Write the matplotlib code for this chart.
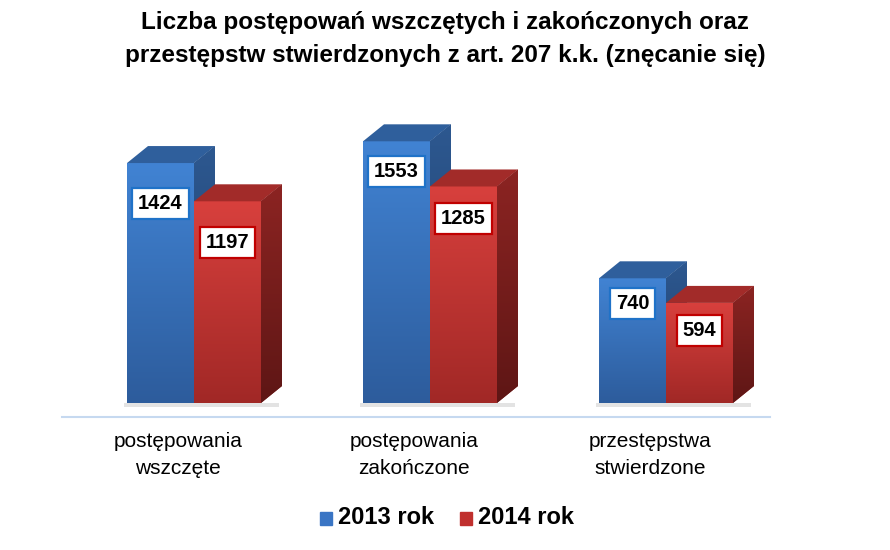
import numpy as np
import matplotlib.pyplot as plt
from matplotlib.patches import Polygon, Rectangle
from matplotlib.colors import LinearSegmentedColormap

plt.rcParams['font.family'] = ['Liberation Sans', 'DejaVu Sans']

title = "Liczba postępowań wszczętych i zakończonych oraz\nprzestępstw stwierdzonych z art. 207 k.k. (znęcanie się)"
categories = ["postępowania\nwszczęte", "postępowania\nzakończone", "przestępstwa\nstwierdzone"]
series_names = ["2013 rok", "2014 rok"]
values_2013 = [1424, 1553, 740]
values_2014 = [1197, 1285, 594]

# pixel geometry helpers (figure 890x550)
px_x = 236.0          # pixels per category step
px_y = 0.1685         # pixels per data unit
y0_pix = 403          # baseline pixel row
x0_pix = 194          # pixel column of first group center

# how far below the bar top each value box sits (pixels), per series
label_drop = [[40, 30, 25], [41, 32, 28]]

fig = plt.figure(figsize=(8.9, 5.5), dpi=100)
ax = fig.add_axes([0, 0, 1, 1])
ax.set_xlim(-x0_pix / px_x, (890 - x0_pix) / px_x)
ax.set_ylim(-(550 - y0_pix) / px_y, y0_pix / px_y)
ax.axis('off')

width = 67 / px_x
dx = 21 / px_x
dy = 17 / px_y

front_cols = [('#4183d3', '#2d5c9c'), ('#d8403d', '#a12826')]
top_cols = ['#2f5f9c', '#a22b29']
side_cols = [('#2d5890', '#1f3e68'), ('#8c2422', '#5e1615')]
edge_cols = ['#1f72c8', '#c00000']

x = np.arange(len(categories))
grad = np.linspace(0, 1, 256).reshape(-1, 1)

for s, vals in enumerate([values_2013, values_2014]):
    xs = x - width + s * width
    # soft shadow under bars
    for xi in xs:
        ax.add_patch(Rectangle((xi - 3 / px_x, -4 / px_y), width + dx, 4 / px_y,
                               color='#e3e3e3', zorder=2, lw=0))
    bars = ax.bar(xs, vals, width=width, align='edge', color=front_cols[s][0], zorder=3 + s)
    for i, (b, v) in enumerate(zip(bars, vals)):
        l = b.get_x()
        r = l + b.get_width()
        # front gradient
        cm = LinearSegmentedColormap.from_list('f', [front_cols[s][1], front_cols[s][0]])
        im = ax.imshow(grad, extent=[l, r, 0, v], origin='lower', cmap=cm,
                       aspect='auto', zorder=3 + s)
        im.set_clip_path(b)
        # top face
        ax.add_patch(Polygon([(l, v), (r, v), (r + dx, v + dy), (l + dx, v + dy)],
                             closed=True, color=top_cols[s], zorder=3 + s, lw=0))
        # side face
        side = Polygon([(r, 0), (r + dx, dy), (r + dx, v + dy), (r, v)],
                       closed=True, color=side_cols[s][0], zorder=3 + s, lw=0)
        ax.add_patch(side)
        cm2 = LinearSegmentedColormap.from_list('s', [side_cols[s][1], side_cols[s][0]])
        im2 = ax.imshow(grad, extent=[r, r + dx, 0, v + dy], origin='lower', cmap=cm2,
                        aspect='auto', zorder=3 + s)
        im2.set_clip_path(side)
        # value label
        ax.text((l + r) / 2, v - label_drop[s][i] / px_y, str(v), ha='center', va='center',
                fontsize=14.5, fontweight='bold', zorder=10,
                bbox=dict(boxstyle='square,pad=0.3', fc='white', ec=edge_cols[s], lw=1.6))

# baseline
ax.plot([(62 - x0_pix) / px_x, (770 - x0_pix) / px_x], [-14 / px_y, -14 / px_y],
        color='#c6d9f0', lw=1.5, zorder=1)

for i, c in enumerate(categories):
    ax.text(x[i] - 16 / px_x, -52 / px_y, c, ha='center', va='center', fontsize=15,
            linespacing=1.5)

fig.text(0.5, 1 - 39 / 550, title, ha='center', va='center', fontsize=17.5,
         fontweight='bold', linespacing=1.6)

# legend
leg_cols = ['#3a75c4', '#c0302e']
leg_x = [320, 460]
for i, name in enumerate(series_names):
    fig.patches.append(Rectangle((leg_x[i] / 890, (550 - 525) / 550), 12 / 890, 13 / 550,
                                 transform=fig.transFigure, color=leg_cols[i], figure=fig))
    fig.text((leg_x[i] + 18) / 890, (550 - 518) / 550, name, ha='left', va='center',
             fontsize=17, fontweight='bold')

fig.savefig('out.png', dpi=100)
